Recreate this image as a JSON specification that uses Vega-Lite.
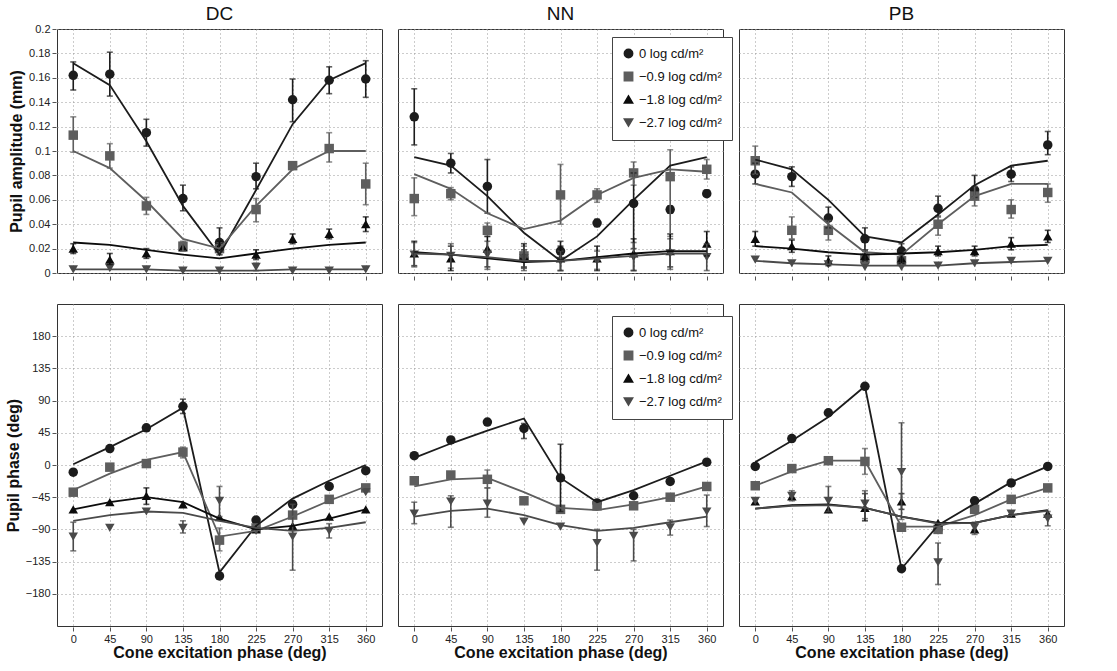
{
"$schema":"https://vega.github.io/schema/vega-lite/v6.json",
"background":"white",
"padding":{"left":5,"top":5,"right":5,"bottom":2},
"config":{"font":"Liberation Sans","view":{"stroke":"#333","strokeWidth":1},
 "axis":{"grid":true,"gridDash":[1,3],"gridColor":"#999","labelFontSize":11,"labelColor":"#222","labelOverlap":false,"titleFontSize":16,"titleFontWeight":"bold","titleColor":"#111","domain":false,"tickColor":"#555","tickSize":4},
 "header":{"labelFontSize":19,"labelFont":"Liberation Sans","labelColor":"#111"},
 "legend":{"labelFontSize":13,"strokeColor":"#444","padding":10,"fillColor":"white","symbolSize":70,"rowPadding":8,"labelColor":"#111"}},
"resolve":{"legend":{"shape":"independent","color":"independent"}},
"spacing":22,
"data":{"values":[
{"s":"DC","m":"a","l":"a","x":0,"y":0.162,"lo":0.150,"hi":0.173,"f":0.172},{"s":"DC","m":"a","l":"a","x":45,"y":0.163,"lo":0.145,"hi":0.181,"f":0.154},{"s":"DC","m":"a","l":"a","x":90,"y":0.115,"lo":0.104,"hi":0.126,"f":0.108},{"s":"DC","m":"a","l":"a","x":135,"y":0.061,"lo":0.051,"hi":0.072,"f":0.055},{"s":"DC","m":"a","l":"a","x":180,"y":0.025,"lo":0.015,"hi":0.037,"f":0.015},{"s":"DC","m":"a","l":"a","x":225,"y":0.079,"lo":0.069,"hi":0.090,"f":0.068},{"s":"DC","m":"a","l":"a","x":270,"y":0.142,"lo":0.124,"hi":0.159,"f":0.122},{"s":"DC","m":"a","l":"a","x":315,"y":0.158,"lo":0.147,"hi":0.169,"f":0.158},{"s":"DC","m":"a","l":"a","x":360,"y":0.159,"lo":0.144,"hi":0.174,"f":0.172},
{"s":"DC","m":"a","l":"b","x":0,"y":0.113,"lo":0.099,"hi":0.128,"f":0.100},{"s":"DC","m":"a","l":"b","x":45,"y":0.096,"lo":0.086,"hi":0.106,"f":0.086},{"s":"DC","m":"a","l":"b","x":90,"y":0.055,"lo":0.048,"hi":0.062,"f":0.059},{"s":"DC","m":"a","l":"b","x":135,"y":0.022,"lo":0.018,"hi":0.026,"f":0.028},{"s":"DC","m":"a","l":"b","x":180,"y":0.020,"lo":0.015,"hi":0.025,"f":0.020},{"s":"DC","m":"a","l":"b","x":225,"y":0.052,"lo":0.042,"hi":0.061,"f":0.055},{"s":"DC","m":"a","l":"b","x":270,"y":0.088,"lo":0.085,"hi":0.091,"f":0.085},{"s":"DC","m":"a","l":"b","x":315,"y":0.102,"lo":0.091,"hi":0.115,"f":0.100},{"s":"DC","m":"a","l":"b","x":360,"y":0.073,"lo":0.056,"hi":0.090,"f":0.100},
{"s":"DC","m":"a","l":"c","x":0,"y":0.020,"lo":0.016,"hi":0.024,"f":0.025},{"s":"DC","m":"a","l":"c","x":45,"y":0.011,"lo":0.007,"hi":0.016,"f":0.023},{"s":"DC","m":"a","l":"c","x":90,"y":0.016,"lo":0.012,"hi":0.020,"f":0.019},{"s":"DC","m":"a","l":"c","x":135,"y":0.021,"f":0.015},{"s":"DC","m":"a","l":"c","x":180,"y":0.022,"lo":0.018,"hi":0.026,"f":0.012},{"s":"DC","m":"a","l":"c","x":225,"y":0.015,"lo":0.011,"hi":0.019,"f":0.016},{"s":"DC","m":"a","l":"c","x":270,"y":0.028,"lo":0.024,"hi":0.032,"f":0.020},{"s":"DC","m":"a","l":"c","x":315,"y":0.032,"lo":0.028,"hi":0.036,"f":0.023},{"s":"DC","m":"a","l":"c","x":360,"y":0.040,"lo":0.034,"hi":0.046,"f":0.025},
{"s":"DC","m":"a","l":"d","x":0,"y":0.003,"f":0.003},{"s":"DC","m":"a","l":"d","x":45,"y":0.004,"f":0.003},{"s":"DC","m":"a","l":"d","x":90,"y":0.003,"f":0.003},{"s":"DC","m":"a","l":"d","x":135,"y":0.002,"f":0.002},{"s":"DC","m":"a","l":"d","x":180,"y":0.002,"f":0.002},{"s":"DC","m":"a","l":"d","x":225,"y":0.005,"lo":0.002,"hi":0.008,"f":0.002},{"s":"DC","m":"a","l":"d","x":270,"y":0.002,"f":0.003},{"s":"DC","m":"a","l":"d","x":315,"y":0.002,"f":0.003},{"s":"DC","m":"a","l":"d","x":360,"y":0.003,"f":0.003},
{"s":"NN","m":"a","l":"a","x":0,"y":0.128,"lo":0.105,"hi":0.151,"f":0.095},{"s":"NN","m":"a","l":"a","x":45,"y":0.090,"lo":0.082,"hi":0.098,"f":0.088},{"s":"NN","m":"a","l":"a","x":90,"y":0.071,"lo":0.049,"hi":0.093,"f":0.063},{"s":"NN","m":"a","l":"a","x":135,"y":0.012,"lo":0.005,"hi":0.019,"f":0.033},{"s":"NN","m":"a","l":"a","x":180,"y":0.018,"lo":0.010,"hi":0.026,"f":0.010},{"s":"NN","m":"a","l":"a","x":225,"y":0.041,"lo":0.038,"hi":0.044,"f":0.030},{"s":"NN","m":"a","l":"a","x":270,"y":0.057,"lo":0.020,"hi":0.082,"f":0.060},{"s":"NN","m":"a","l":"a","x":315,"y":0.052,"lo":0.049,"hi":0.055,"f":0.088},{"s":"NN","m":"a","l":"a","x":360,"y":0.065,"lo":0.063,"hi":0.068,"f":0.095},
{"s":"NN","m":"a","l":"b","x":0,"y":0.061,"lo":0.047,"hi":0.078,"f":0.081},{"s":"NN","m":"a","l":"b","x":45,"y":0.065,"lo":0.060,"hi":0.070,"f":0.069},{"s":"NN","m":"a","l":"b","x":90,"y":0.035,"lo":0.030,"hi":0.041,"f":0.049},{"s":"NN","m":"a","l":"b","x":135,"y":0.014,"lo":0.010,"hi":0.018,"f":0.036},{"s":"NN","m":"a","l":"b","x":180,"y":0.064,"lo":0.040,"hi":0.089,"f":0.043},{"s":"NN","m":"a","l":"b","x":225,"y":0.064,"lo":0.058,"hi":0.069,"f":0.064},{"s":"NN","m":"a","l":"b","x":270,"y":0.082,"lo":0.072,"hi":0.091,"f":0.078},{"s":"NN","m":"a","l":"b","x":315,"y":0.079,"lo":0.030,"hi":0.101,"f":0.085},{"s":"NN","m":"a","l":"b","x":360,"y":0.085,"lo":0.077,"hi":0.093,"f":0.083},
{"s":"NN","m":"a","l":"c","x":0,"y":0.016,"lo":0.006,"hi":0.026,"f":0.017},{"s":"NN","m":"a","l":"c","x":45,"y":0.012,"lo":0.002,"hi":0.022,"f":0.015},{"s":"NN","m":"a","l":"c","x":90,"y":0.020,"lo":0.005,"hi":0.030,"f":0.012},{"s":"NN","m":"a","l":"c","x":135,"y":0.014,"lo":0.004,"hi":0.024,"f":0.009},{"s":"NN","m":"a","l":"c","x":180,"y":0.012,"lo":0.002,"hi":0.022,"f":0.010},{"s":"NN","m":"a","l":"c","x":225,"y":0.012,"lo":0.002,"hi":0.022,"f":0.013},{"s":"NN","m":"a","l":"c","x":270,"y":0.016,"lo":0.002,"hi":0.028,"f":0.016},{"s":"NN","m":"a","l":"c","x":315,"y":0.018,"lo":0.005,"hi":0.032,"f":0.018},{"s":"NN","m":"a","l":"c","x":360,"y":0.024,"lo":0.014,"hi":0.034,"f":0.018},
{"s":"NN","m":"a","l":"d","x":0,"y":0.015,"lo":0.005,"hi":0.025,"f":0.016},{"s":"NN","m":"a","l":"d","x":45,"y":0.014,"lo":0.004,"hi":0.024,"f":0.015},{"s":"NN","m":"a","l":"d","x":90,"y":0.015,"lo":0.003,"hi":0.026,"f":0.013},{"s":"NN","m":"a","l":"d","x":135,"y":0.012,"lo":0.002,"hi":0.022,"f":0.010},{"s":"NN","m":"a","l":"d","x":180,"y":0.010,"lo":0.002,"hi":0.018,"f":0.010},{"s":"NN","m":"a","l":"d","x":225,"y":0.010,"lo":0.003,"hi":0.018,"f":0.012},{"s":"NN","m":"a","l":"d","x":270,"y":0.013,"lo":0.002,"hi":0.025,"f":0.014},{"s":"NN","m":"a","l":"d","x":315,"y":0.016,"lo":0.003,"hi":0.028,"f":0.016},{"s":"NN","m":"a","l":"d","x":360,"y":0.013,"lo":0.002,"hi":0.024,"f":0.016},
{"s":"PB","m":"a","l":"a","x":0,"y":0.081,"lo":0.073,"hi":0.090,"f":0.093},{"s":"PB","m":"a","l":"a","x":45,"y":0.079,"lo":0.071,"hi":0.087,"f":0.085},{"s":"PB","m":"a","l":"a","x":90,"y":0.045,"lo":0.037,"hi":0.054,"f":0.060},{"s":"PB","m":"a","l":"a","x":135,"y":0.028,"lo":0.019,"hi":0.037,"f":0.030},{"s":"PB","m":"a","l":"a","x":180,"y":0.018,"lo":0.012,"hi":0.024,"f":0.025},{"s":"PB","m":"a","l":"a","x":225,"y":0.053,"lo":0.046,"hi":0.063,"f":0.048},{"s":"PB","m":"a","l":"a","x":270,"y":0.068,"lo":0.062,"hi":0.080,"f":0.072},{"s":"PB","m":"a","l":"a","x":315,"y":0.081,"lo":0.075,"hi":0.087,"f":0.088},{"s":"PB","m":"a","l":"a","x":360,"y":0.105,"lo":0.097,"hi":0.116,"f":0.092},
{"s":"PB","m":"a","l":"b","x":0,"y":0.092,"lo":0.081,"hi":0.104,"f":0.073},{"s":"PB","m":"a","l":"b","x":45,"y":0.035,"lo":0.028,"hi":0.046,"f":0.066},{"s":"PB","m":"a","l":"b","x":90,"y":0.035,"lo":0.027,"hi":0.043,"f":0.040},{"s":"PB","m":"a","l":"b","x":135,"y":0.012,"lo":0.008,"hi":0.016,"f":0.017},{"s":"PB","m":"a","l":"b","x":180,"y":0.010,"lo":0.006,"hi":0.014,"f":0.015},{"s":"PB","m":"a","l":"b","x":225,"y":0.040,"lo":0.031,"hi":0.047,"f":0.040},{"s":"PB","m":"a","l":"b","x":270,"y":0.063,"lo":0.055,"hi":0.071,"f":0.063},{"s":"PB","m":"a","l":"b","x":315,"y":0.052,"lo":0.045,"hi":0.060,"f":0.073},{"s":"PB","m":"a","l":"b","x":360,"y":0.066,"lo":0.058,"hi":0.073,"f":0.073},
{"s":"PB","m":"a","l":"c","x":0,"y":0.028,"lo":0.022,"hi":0.034,"f":0.022},{"s":"PB","m":"a","l":"c","x":45,"y":0.022,"lo":0.017,"hi":0.027,"f":0.020},{"s":"PB","m":"a","l":"c","x":90,"y":0.010,"lo":0.006,"hi":0.014,"f":0.017},{"s":"PB","m":"a","l":"c","x":135,"y":0.014,"lo":0.010,"hi":0.018,"f":0.015},{"s":"PB","m":"a","l":"c","x":180,"y":0.012,"lo":0.008,"hi":0.016,"f":0.016},{"s":"PB","m":"a","l":"c","x":225,"y":0.018,"lo":0.014,"hi":0.022,"f":0.017},{"s":"PB","m":"a","l":"c","x":270,"y":0.018,"lo":0.014,"hi":0.022,"f":0.019},{"s":"PB","m":"a","l":"c","x":315,"y":0.024,"lo":0.019,"hi":0.029,"f":0.022},{"s":"PB","m":"a","l":"c","x":360,"y":0.030,"lo":0.025,"hi":0.035,"f":0.023},
{"s":"PB","m":"a","l":"d","x":0,"y":0.011,"f":0.010},{"s":"PB","m":"a","l":"d","x":45,"y":0.008,"f":0.008},{"s":"PB","m":"a","l":"d","x":90,"y":0.007,"f":0.007},{"s":"PB","m":"a","l":"d","x":135,"y":0.005,"f":0.006},{"s":"PB","m":"a","l":"d","x":180,"y":0.005,"f":0.006},{"s":"PB","m":"a","l":"d","x":225,"y":0.006,"f":0.006},{"s":"PB","m":"a","l":"d","x":270,"y":0.008,"f":0.008},{"s":"PB","m":"a","l":"d","x":315,"y":0.010,"f":0.009},{"s":"PB","m":"a","l":"d","x":360,"y":0.010,"f":0.010},
{"s":"DC","m":"p","l":"a","x":0,"y":-10,"f":1},{"s":"DC","m":"p","l":"a","x":45,"y":23,"f":25},{"s":"DC","m":"p","l":"a","x":90,"y":52,"f":50},{"s":"DC","m":"p","l":"a","x":135,"y":82,"lo":72,"hi":92,"f":80},{"s":"DC","m":"p","l":"a","x":180,"y":-155,"f":-150},{"s":"DC","m":"p","l":"a","x":225,"y":-77,"f":-85},{"s":"DC","m":"p","l":"a","x":270,"y":-55,"f":-47},{"s":"DC","m":"p","l":"a","x":315,"y":-30,"f":-22},{"s":"DC","m":"p","l":"a","x":360,"y":-8,"f":0},
{"s":"DC","m":"p","l":"b","x":0,"y":-38,"f":-35},{"s":"DC","m":"p","l":"b","x":45,"y":-3,"f":-12},{"s":"DC","m":"p","l":"b","x":90,"y":2,"f":7},{"s":"DC","m":"p","l":"b","x":135,"y":18,"lo":10,"hi":25,"f":18},{"s":"DC","m":"p","l":"b","x":180,"y":-105,"lo":-120,"hi":-88,"f":-100},{"s":"DC","m":"p","l":"b","x":225,"y":-88,"f":-92},{"s":"DC","m":"p","l":"b","x":270,"y":-70,"f":-72},{"s":"DC","m":"p","l":"b","x":315,"y":-48,"f":-50},{"s":"DC","m":"p","l":"b","x":360,"y":-32,"f":-30},
{"s":"DC","m":"p","l":"c","x":0,"y":-62,"f":-62},{"s":"DC","m":"p","l":"c","x":45,"y":-52,"f":-52},{"s":"DC","m":"p","l":"c","x":90,"y":-43,"lo":-32,"hi":-55,"f":-45},{"s":"DC","m":"p","l":"c","x":135,"y":-55,"f":-52},{"s":"DC","m":"p","l":"c","x":180,"y":-73,"f":-75},{"s":"DC","m":"p","l":"c","x":225,"y":-90,"f":-90},{"s":"DC","m":"p","l":"c","x":270,"y":-85,"f":-85},{"s":"DC","m":"p","l":"c","x":315,"y":-72,"f":-75},{"s":"DC","m":"p","l":"c","x":360,"y":-62,"f":-62},
{"s":"DC","m":"p","l":"d","x":0,"y":-100,"lo":-80,"hi":-120,"f":-78},{"s":"DC","m":"p","l":"d","x":45,"y":-88,"f":-70},{"s":"DC","m":"p","l":"d","x":90,"y":-65,"f":-65},{"s":"DC","m":"p","l":"d","x":135,"y":-88,"lo":-78,"hi":-95,"f":-67},{"s":"DC","m":"p","l":"d","x":180,"y":-50,"lo":-30,"hi":-72,"f":-78},{"s":"DC","m":"p","l":"d","x":225,"y":-92,"f":-88},{"s":"DC","m":"p","l":"d","x":270,"y":-100,"lo":-55,"hi":-147,"f":-92},{"s":"DC","m":"p","l":"d","x":315,"y":-92,"lo":-82,"hi":-102,"f":-88},{"s":"DC","m":"p","l":"d","x":360,"y":-38,"f":-80},
{"s":"NN","m":"p","l":"a","x":0,"y":13,"f":10},{"s":"NN","m":"p","l":"a","x":45,"y":35,"f":30},{"s":"NN","m":"p","l":"a","x":90,"y":60,"f":48},{"s":"NN","m":"p","l":"a","x":135,"y":51,"lo":37,"hi":58,"f":65},{"s":"NN","m":"p","l":"a","x":180,"y":-18,"lo":-65,"hi":29,"f":-18},{"s":"NN","m":"p","l":"a","x":225,"y":-53,"f":-52},{"s":"NN","m":"p","l":"a","x":270,"y":-43,"f":-35},{"s":"NN","m":"p","l":"a","x":315,"y":-23,"f":-15},{"s":"NN","m":"p","l":"a","x":360,"y":4,"f":5},
{"s":"NN","m":"p","l":"b","x":0,"y":-22,"f":-30},{"s":"NN","m":"p","l":"b","x":45,"y":-14,"f":-20},{"s":"NN","m":"p","l":"b","x":90,"y":-20,"lo":-7,"hi":-32,"f":-18},{"s":"NN","m":"p","l":"b","x":135,"y":-50,"f":-38},{"s":"NN","m":"p","l":"b","x":180,"y":-62,"f":-60},{"s":"NN","m":"p","l":"b","x":225,"y":-57,"f":-63},{"s":"NN","m":"p","l":"b","x":270,"y":-57,"f":-55},{"s":"NN","m":"p","l":"b","x":315,"y":-45,"f":-45},{"s":"NN","m":"p","l":"b","x":360,"y":-30,"f":-30},
{"s":"NN","m":"p","l":"d","x":0,"y":-68,"lo":-52,"hi":-82,"f":-72},{"s":"NN","m":"p","l":"d","x":45,"y":-51,"lo":-43,"hi":-87,"f":-64},{"s":"NN","m":"p","l":"d","x":90,"y":-54,"lo":-32,"hi":-73,"f":-61},{"s":"NN","m":"p","l":"d","x":135,"y":-79,"f":-70},{"s":"NN","m":"p","l":"d","x":180,"y":-86,"f":-84},{"s":"NN","m":"p","l":"d","x":225,"y":-109,"lo":-90,"hi":-147,"f":-92},{"s":"NN","m":"p","l":"d","x":270,"y":-99,"lo":-90,"hi":-134,"f":-88},{"s":"NN","m":"p","l":"d","x":315,"y":-87,"lo":-77,"hi":-98,"f":-80},{"s":"NN","m":"p","l":"d","x":360,"y":-65,"lo":-42,"hi":-86,"f":-72},
{"s":"PB","m":"p","l":"a","x":0,"y":-2,"f":4},{"s":"PB","m":"p","l":"a","x":45,"y":37,"f":34},{"s":"PB","m":"p","l":"a","x":90,"y":73,"f":67},{"s":"PB","m":"p","l":"a","x":135,"y":110,"f":110},{"s":"PB","m":"p","l":"a","x":180,"y":-145,"f":-145},{"s":"PB","m":"p","l":"a","x":225,"y":-90,"f":-84},{"s":"PB","m":"p","l":"a","x":270,"y":-50,"f":-54},{"s":"PB","m":"p","l":"a","x":315,"y":-25,"f":-24},{"s":"PB","m":"p","l":"a","x":360,"y":-2,"f":-2},
{"s":"PB","m":"p","l":"b","x":0,"y":-29,"f":-29},{"s":"PB","m":"p","l":"b","x":45,"y":-5,"f":-9},{"s":"PB","m":"p","l":"b","x":90,"y":6,"f":6},{"s":"PB","m":"p","l":"b","x":135,"y":5,"lo":-13,"hi":23,"f":6},{"s":"PB","m":"p","l":"b","x":180,"y":-87,"f":-86},{"s":"PB","m":"p","l":"b","x":225,"y":-90,"f":-86},{"s":"PB","m":"p","l":"b","x":270,"y":-62,"f":-70},{"s":"PB","m":"p","l":"b","x":315,"y":-48,"f":-48},{"s":"PB","m":"p","l":"b","x":360,"y":-32,"f":-32},
{"s":"PB","m":"p","l":"c","x":0,"y":-51,"f":-61},{"s":"PB","m":"p","l":"c","x":45,"y":-44,"f":-56},{"s":"PB","m":"p","l":"c","x":90,"y":-62,"f":-55},{"s":"PB","m":"p","l":"c","x":135,"y":-60,"lo":-40,"hi":-78,"f":-60},{"s":"PB","m":"p","l":"c","x":180,"y":-51,"lo":-40,"hi":-62,"f":-72},{"s":"PB","m":"p","l":"c","x":225,"y":-81,"f":-81},{"s":"PB","m":"p","l":"c","x":270,"y":-90,"f":-81},{"s":"PB","m":"p","l":"c","x":315,"y":-68,"f":-70},{"s":"PB","m":"p","l":"c","x":360,"y":-68,"f":-63},
{"s":"PB","m":"p","l":"d","x":0,"y":-50,"f":-61},{"s":"PB","m":"p","l":"d","x":45,"y":-43,"lo":-36,"hi":-50,"f":-57},{"s":"PB","m":"p","l":"d","x":90,"y":-50,"lo":-30,"hi":-65,"f":-56},{"s":"PB","m":"p","l":"d","x":135,"y":-54,"lo":-36,"hi":-75,"f":-60},{"s":"PB","m":"p","l":"d","x":180,"y":-10,"lo":59,"hi":-76,"f":-72},{"s":"PB","m":"p","l":"d","x":225,"y":-136,"lo":-109,"hi":-167,"f":-82},{"s":"PB","m":"p","l":"d","x":270,"y":-87,"lo":-80,"hi":-97,"f":-81},{"s":"PB","m":"p","l":"d","x":315,"y":-68,"f":-70},{"s":"PB","m":"p","l":"d","x":360,"y":-75,"lo":-65,"hi":-85,"f":-64}
]},
"vconcat":[
{"transform":[{"filter":"datum.m=='a'"}],
 "facet":{"column":{"field":"s","type":"nominal","title":null,"header":{"labelPadding":4}}},
 "spacing":14,
 "spec":{"width":325,"height":244,
  "layer":[
   {"mark":{"type":"point","filled":true,"opacity":1,"size":90},
    "encoding":{
     "x":{"field":"x","type":"quantitative","scale":{"domain":[-20,380],"nice":false},"axis":{"values":[0,45,90,135,180,225,270,315,360],"labels":false,"title":null}},
     "y":{"field":"y","type":"quantitative","scale":{"domain":[0,0.2],"nice":false},"axis":{"values":[0,0.02,0.04,0.06,0.08,0.1,0.12,0.14,0.16,0.18,0.2],"format":"~g","title":"Pupil amplitude (mm)"}},
     "shape":{"field":"l","type":"nominal","scale":{"domain":["a","b","c","d"],"range":["circle","square","triangle-up","triangle-down"]},
      "legend":{"title":null,"orient":"none","legendX":555,"legendY":8,"labelExpr":"datum.value=='a'?'0 log cd/m²':datum.value=='b'?'−0.9 log cd/m²':datum.value=='c'?'−1.8 log cd/m²':'−2.7 log cd/m²'"}},
     "color":{"field":"l","type":"nominal","scale":{"domain":["a","b","c","d"],"range":["#1c1c1c","#5e5e5e","#0c0c0c","#4a4a4a"]},
      "legend":{"title":null,"orient":"none","legendX":555,"legendY":8,"labelExpr":"datum.value=='a'?'0 log cd/m²':datum.value=='b'?'−0.9 log cd/m²':datum.value=='c'?'−1.8 log cd/m²':'−2.7 log cd/m²'"}}}},
   {"transform":[{"filter":"isValid(datum.lo)"}],"mark":{"type":"errorbar","ticks":{"size":6},"thickness":1.6},
    "encoding":{"x":{"field":"x","type":"quantitative"},"y":{"field":"lo","type":"quantitative","axis":{"values":[0,0.02,0.04,0.06,0.08,0.1,0.12,0.14,0.16,0.18,0.2],"format":"~g","title":"Pupil amplitude (mm)"}},"y2":{"field":"hi"},
     "color":{"field":"l","type":"nominal"}}},
   {"mark":{"type":"line","strokeWidth":1.8},
    "encoding":{"x":{"field":"x","type":"quantitative"},"y":{"field":"f","type":"quantitative","axis":{"values":[0,0.02,0.04,0.06,0.08,0.1,0.12,0.14,0.16,0.18,0.2],"format":"~g","title":"Pupil amplitude (mm)"}},
     "color":{"field":"l","type":"nominal"}}}
  ]}},
{"transform":[{"filter":"datum.m=='p'"}],
 "facet":{"column":{"field":"s","type":"nominal","title":null,"header":{"labels":false}}},
 "spacing":14,
 "spec":{"width":325,"height":322,
  "layer":[
   {"mark":{"type":"point","filled":true,"opacity":1,"size":90},
    "encoding":{
     "x":{"field":"x","type":"quantitative","scale":{"domain":[-20,380],"nice":false},"axis":{"values":[0,45,90,135,180,225,270,315,360],"title":"Cone excitation phase (deg)","titlePadding":0}},
     "y":{"field":"y","type":"quantitative","scale":{"domain":[-225,225],"nice":false},"axis":{"values":[-180,-135,-90,-45,0,45,90,135,180],"title":"Pupil phase (deg)"}},
     "shape":{"field":"l","type":"nominal","scale":{"domain":["a","b","c","d"],"range":["circle","square","triangle-up","triangle-down"]},
      "legend":{"title":null,"orient":"none","legendX":555,"legendY":12,"labelExpr":"datum.value=='a'?'0 log cd/m²':datum.value=='b'?'−0.9 log cd/m²':datum.value=='c'?'−1.8 log cd/m²':'−2.7 log cd/m²'"}},
     "color":{"field":"l","type":"nominal","scale":{"domain":["a","b","c","d"],"range":["#1c1c1c","#5e5e5e","#0c0c0c","#4a4a4a"]},
      "legend":{"title":null,"orient":"none","legendX":555,"legendY":12,"labelExpr":"datum.value=='a'?'0 log cd/m²':datum.value=='b'?'−0.9 log cd/m²':datum.value=='c'?'−1.8 log cd/m²':'−2.7 log cd/m²'"}}}},
   {"transform":[{"filter":"isValid(datum.lo)"}],"mark":{"type":"errorbar","ticks":{"size":6},"thickness":1.6},
    "encoding":{"x":{"field":"x","type":"quantitative"},"y":{"field":"lo","type":"quantitative","axis":{"values":[-180,-135,-90,-45,0,45,90,135,180],"title":"Pupil phase (deg)"}},"y2":{"field":"hi"},
     "color":{"field":"l","type":"nominal"}}},
   {"mark":{"type":"line","strokeWidth":1.8},
    "encoding":{"x":{"field":"x","type":"quantitative"},"y":{"field":"f","type":"quantitative","axis":{"values":[-180,-135,-90,-45,0,45,90,135,180],"title":"Pupil phase (deg)"}},
     "color":{"field":"l","type":"nominal"}}}
  ]}}
]
}
